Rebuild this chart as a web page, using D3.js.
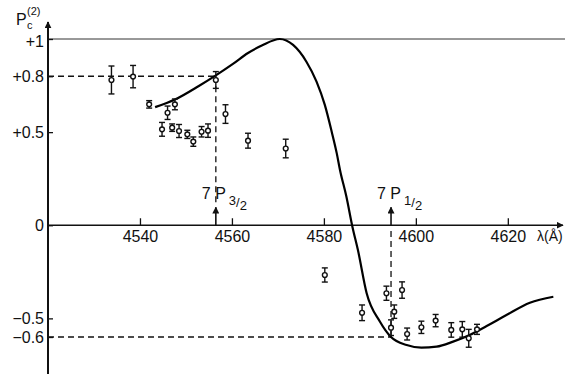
<!DOCTYPE html>
<html>
<head>
<meta charset="utf-8">
<script src="https://cdn.jsdelivr.net/npm/d3@7"></script>
<style>
  body { margin: 0; background: #fff; }
  svg { display: block; font-family: "Liberation Sans", Arial, sans-serif; }
  .tick line { stroke: #111; stroke-width: 1.3; }
  .tick text { fill: #111; font-size: 16px; }
</style>
</head>
<body>
<div id="chart"></div>
<script>
// measured points, lambda in angstrom, polarisation P_c(2)
var lambda = [4533.8, 4538.5, 4542.0, 4544.8, 4546.0, 4547.0, 4547.6, 4548.5, 4550.3, 4551.6,
              4553.4, 4554.8, 4556.5, 4558.6, 4563.5, 4571.7,
              4580.2, 4588.3, 4593.6, 4594.6, 4595.3, 4597.0, 4598.1, 4601.2, 4604.3,
              4607.7, 4610.1, 4611.5, 4613.3];
var pol = [0.780, 0.798, 0.649, 0.515, 0.604, 0.524, 0.649, 0.506, 0.488, 0.449,
           0.502, 0.508, 0.780, 0.597, 0.454, 0.412,
           -0.267, -0.470, -0.365, -0.550, -0.464, -0.348, -0.584, -0.548, -0.512,
           -0.562, -0.559, -0.607, -0.559];
var err = [0.075, 0.060, 0.020, 0.037, 0.036, 0.020, 0.029, 0.035, 0.022, 0.025,
           0.028, 0.036, 0.045, 0.050, 0.040, 0.050,
           0.038, 0.042, 0.038, 0.042, 0.036, 0.044, 0.032, 0.033, 0.033,
           0.039, 0.042, 0.048, 0.027];

// theoretical curve
var curveLambda = [4543.3, 4547.6, 4552.8, 4556.5, 4560.3, 4563.5, 4566.5, 4570.4, 4573.3,
                   4576.2, 4578.4, 4580.2, 4581.7, 4582.8, 4583.5, 4584.9, 4586.2, 4587.4,
                   4589.3, 4592.2, 4594.6, 4598.0, 4601.2, 4604.5, 4608.1, 4611.7, 4615.4,
                   4619.7, 4624.8, 4629.9];
var curvePol = [0.634, 0.675, 0.748, 0.805, 0.868, 0.925, 0.965, 1.000, 0.968,
                0.878, 0.771, 0.646, 0.502, 0.386, 0.297, 0.153, -0.008, -0.133,
                -0.365, -0.518, -0.600, -0.643, -0.657, -0.652, -0.625, -0.589, -0.541,
                -0.482, -0.416, -0.384];

var xTicks = [4540, 4560, 4580, 4600, 4620];
var yTicks = [1, 0.8, 0.5, 0, -0.5, -0.6];
var yTickLabels = ["+1", "+0.8", "+0.5", "0", "\u22120.5", "\u22120.6"];

// fine structure lines and their levels
var lineP32 = 4556.5, levelP32 = 0.8;
var lineP12 = 4594.6, levelP12 = -0.6;

var w = 565, h = 375;

var x = d3.scaleLinear().domain([4520, 4632]).range([48, 563]);
var y = d3.scaleLinear().domain([-0.6, 1]).range([337, 39]);

var svg = d3.select("#chart").append("svg")
    .attr("width", w).attr("height", h);

var defs = svg.append("defs");
defs.append("marker")
    .attr("id", "head")
    .attr("viewBox", "0 0 10 10")
    .attr("refX", 9).attr("refY", 5)
    .attr("markerWidth", 7).attr("markerHeight", 7)
    .attr("markerUnits", "userSpaceOnUse")
    .attr("orient", "auto")
  .append("path")
    .attr("d", "M0,0L10,5L0,10z")
    .attr("fill", "#111");

// +1 line
svg.append("line")
    .attr("x1", x(4520)).attr("x2", w)
    .attr("y1", y(1)).attr("y2", y(1))
    .attr("stroke", "#333").attr("stroke-width", 1);

// dashed guides
var dash = svg.append("g")
    .attr("stroke", "#111").attr("stroke-width", 1.3)
    .attr("stroke-dasharray", "6,4").attr("fill", "none");

dash.append("line")
    .attr("x1", x(4520)).attr("x2", x(lineP32))
    .attr("y1", y(levelP32)).attr("y2", y(levelP32));
dash.append("line")
    .attr("x1", x(lineP32)).attr("x2", x(lineP32))
    .attr("y1", y(levelP32)).attr("y2", y(0) - 20);
dash.append("line")
    .attr("x1", x(4520)).attr("x2", x(lineP12))
    .attr("y1", y(levelP12)).attr("y2", y(levelP12));
dash.append("line")
    .attr("x1", x(lineP12)).attr("x2", x(lineP12))
    .attr("y1", y(levelP12)).attr("y2", y(0) + 2);

// axes
var xAxis = d3.axisBottom(x)
    .tickValues(xTicks)
    .tickSizeInner(-7).tickSizeOuter(0)
    .tickPadding(5)
    .tickFormat(d3.format("d"));

var gx = svg.append("g")
    .attr("transform", "translate(0," + y(0) + ")")
    .call(xAxis);
gx.select(".domain").remove();

var yAxis = d3.axisLeft(y)
    .tickValues(yTicks)
    .tickSizeInner(-5).tickSizeOuter(0)
    .tickPadding(4)
    .tickFormat(function(d, i) { return yTickLabels[i]; });

var gy = svg.append("g")
    .attr("transform", "translate(" + x(4520) + ",0)")
    .call(yAxis);
gy.select(".domain").remove();
gy.selectAll(".tick text").filter(function(d) { return d === 1; })
    .attr("dy", "0.45em");

svg.append("line")
    .attr("x1", x(4520)).attr("x2", 563)
    .attr("y1", y(0)).attr("y2", y(0))
    .attr("stroke", "#111").attr("stroke-width", 1.6)
    .attr("marker-end", "url(#head)");

svg.append("line")
    .attr("x1", x(4520)).attr("x2", x(4520))
    .attr("y1", 374).attr("y2", 22)
    .attr("stroke", "#111").attr("stroke-width", 2)
    .attr("marker-end", "url(#head)");

// axis titles
svg.append("text").attr("x", 16).attr("y", 25)
    .attr("font-size", 16).attr("fill", "#111").text("P");
svg.append("text").attr("x", 27).attr("y", 29)
    .attr("font-size", 11).attr("fill", "#111").text("c");
svg.append("text").attr("x", 27).attr("y", 15)
    .attr("font-size", 11).attr("fill", "#111").text("(2)");

svg.append("text")
    .attr("x", 537).attr("y", 241)
    .attr("font-size", 14).attr("fill", "#111")
    .text("\u03bb(\u00c5)");

// transition arrows with labels
function marker(lam, sub) {
    var xx = x(lam);
    svg.append("line")
        .attr("x1", xx).attr("x2", xx)
        .attr("y1", y(0)).attr("y2", y(0) - 18)
        .attr("stroke", "#111").attr("stroke-width", 1.6)
        .attr("marker-end", "url(#head)");
    svg.append("text")
        .attr("x", xx - 14).attr("y", 199)
        .attr("font-size", 16).attr("fill", "#111")
        .text("7 P");
    var t = svg.append("text")
        .attr("x", xx + 13).attr("y", 205)
        .attr("font-size", 13).attr("fill", "#111");
    t.append("tspan").text(sub[0]);
    t.append("tspan").attr("dy", 2).text("/");
    t.append("tspan").attr("dy", 3).text(sub[1]);
}
marker(lineP32, ["3", "2"]);
marker(lineP12, ["1", "2"]);

// theory curve
var pts = curveLambda.map(function(d, i) { return [d, curvePol[i]]; });
var line = d3.line()
    .x(function(d) { return x(d[0]); })
    .y(function(d) { return y(d[1]); })
    .curve(d3.curveMonotoneX);

svg.append("path")
    .datum(pts)
    .attr("d", line)
    .attr("fill", "none")
    .attr("stroke", "#000")
    .attr("stroke-width", 2.2);

// data points with error bars
var data = lambda.map(function(d, i) { return { l: d, p: pol[i], e: err[i] }; });

var pt = svg.append("g").selectAll("g")
    .data(data)
    .enter().append("g")
    .attr("stroke", "#111")
    .attr("stroke-width", 1.4);

pt.append("line")
    .attr("x1", function(d) { return x(d.l); })
    .attr("x2", function(d) { return x(d.l); })
    .attr("y1", function(d) { return y(d.p + d.e); })
    .attr("y2", function(d) { return y(d.p - d.e); });
pt.append("line")
    .attr("x1", function(d) { return x(d.l) - 3; })
    .attr("x2", function(d) { return x(d.l) + 3; })
    .attr("y1", function(d) { return y(d.p + d.e); })
    .attr("y2", function(d) { return y(d.p + d.e); });
pt.append("line")
    .attr("x1", function(d) { return x(d.l) - 3; })
    .attr("x2", function(d) { return x(d.l) + 3; })
    .attr("y1", function(d) { return y(d.p - d.e); })
    .attr("y2", function(d) { return y(d.p - d.e); });
pt.append("circle")
    .attr("cx", function(d) { return x(d.l); })
    .attr("cy", function(d) { return y(d.p); })
    .attr("r", 2.4)
    .attr("fill", "#fff");
</script>
</body>
</html>
